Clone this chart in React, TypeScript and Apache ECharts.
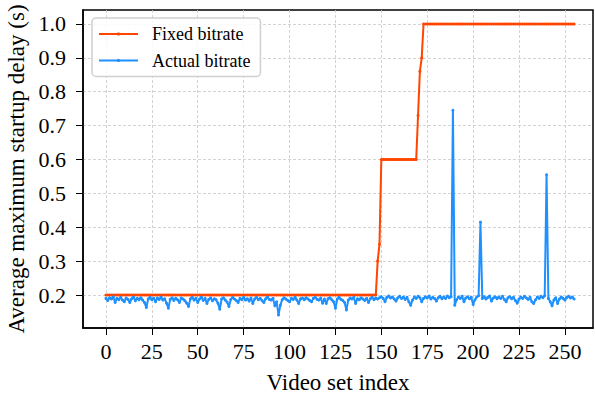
import React, { useEffect, useRef } from "react";
import * as echarts from "echarts";

const xTicks = [0, 25, 50, 75, 100, 125, 150, 175, 200, 225, 250];
const yTicks = [0.2, 0.3, 0.4, 0.5, 0.6, 0.7, 0.8, 0.9, 1.0];

const fixedBitrate = [
  0.2, 0.2, 0.2, 0.2, 0.2, 0.2, 0.2, 0.2, 0.2, 0.2,
  0.2, 0.2, 0.2, 0.2, 0.2, 0.2, 0.2, 0.2, 0.2, 0.2,
  0.2, 0.2, 0.2, 0.2, 0.2, 0.2, 0.2, 0.2, 0.2, 0.2,
  0.2, 0.2, 0.2, 0.2, 0.2, 0.2, 0.2, 0.2, 0.2, 0.2,
  0.2, 0.2, 0.2, 0.2, 0.2, 0.2, 0.2, 0.2, 0.2, 0.2,
  0.2, 0.2, 0.2, 0.2, 0.2, 0.2, 0.2, 0.2, 0.2, 0.2,
  0.2, 0.2, 0.2, 0.2, 0.2, 0.2, 0.2, 0.2, 0.2, 0.2,
  0.2, 0.2, 0.2, 0.2, 0.2, 0.2, 0.2, 0.2, 0.2, 0.2,
  0.2, 0.2, 0.2, 0.2, 0.2, 0.2, 0.2, 0.2, 0.2, 0.2,
  0.2, 0.2, 0.2, 0.2, 0.2, 0.2, 0.2, 0.2, 0.2, 0.2,
  0.2, 0.2, 0.2, 0.2, 0.2, 0.2, 0.2, 0.2, 0.2, 0.2,
  0.2, 0.2, 0.2, 0.2, 0.2, 0.2, 0.2, 0.2, 0.2, 0.2,
  0.2, 0.2, 0.2, 0.2, 0.2, 0.2, 0.2, 0.2, 0.2, 0.2,
  0.2, 0.2, 0.2, 0.2, 0.2, 0.2, 0.2, 0.2, 0.2, 0.2,
  0.2, 0.2, 0.2, 0.2, 0.2, 0.2, 0.2, 0.2, 0.3, 0.35,
  0.6, 0.6, 0.6, 0.6, 0.6, 0.6, 0.6, 0.6, 0.6, 0.6,
  0.6, 0.6, 0.6, 0.6, 0.6, 0.6, 0.6, 0.6, 0.6, 0.6,
  0.73, 0.86, 0.9, 1.0, 1.0, 1.0, 1.0, 1.0, 1.0, 1.0,
  1.0, 1.0, 1.0, 1.0, 1.0, 1.0, 1.0, 1.0, 1.0, 1.0,
  1.0, 1.0, 1.0, 1.0, 1.0, 1.0, 1.0, 1.0, 1.0, 1.0,
  1.0, 1.0, 1.0, 1.0, 1.0, 1.0, 1.0, 1.0, 1.0, 1.0,
  1.0, 1.0, 1.0, 1.0, 1.0, 1.0, 1.0, 1.0, 1.0, 1.0,
  1.0, 1.0, 1.0, 1.0, 1.0, 1.0, 1.0, 1.0, 1.0, 1.0,
  1.0, 1.0, 1.0, 1.0, 1.0, 1.0, 1.0, 1.0, 1.0, 1.0,
  1.0, 1.0, 1.0, 1.0, 1.0, 1.0, 1.0, 1.0, 1.0, 1.0,
  1.0, 1.0, 1.0, 1.0, 1.0, 1.0,
];

const actualBitrate = [
  0.190, 0.184, 0.192, 0.188, 0.195, 0.178, 0.190, 0.186, 0.193, 0.185,
  0.180, 0.191, 0.187, 0.178, 0.189, 0.194, 0.183, 0.190, 0.186, 0.192,
  0.185, 0.178, 0.163, 0.188, 0.193, 0.186, 0.190, 0.180, 0.191, 0.187,
  0.194, 0.185, 0.189, 0.176, 0.161, 0.187, 0.192, 0.184, 0.190, 0.186,
  0.178, 0.191, 0.188, 0.183, 0.176, 0.166, 0.189, 0.193, 0.185, 0.190,
  0.178, 0.188, 0.194, 0.184, 0.190, 0.175, 0.187, 0.192, 0.183, 0.189,
  0.186, 0.176, 0.158, 0.188, 0.192, 0.185, 0.179, 0.166, 0.187, 0.193,
  0.188, 0.184, 0.178, 0.190, 0.186, 0.193, 0.185, 0.189, 0.182, 0.191,
  0.175, 0.188, 0.193, 0.186, 0.190, 0.184, 0.178, 0.189, 0.194, 0.187,
  0.185, 0.190, 0.168, 0.180, 0.141, 0.170, 0.186, 0.192, 0.188, 0.184,
  0.180, 0.190, 0.187, 0.193, 0.185, 0.175, 0.189, 0.191, 0.186, 0.192,
  0.188, 0.184, 0.180, 0.190, 0.193, 0.187, 0.185, 0.191, 0.176, 0.188,
  0.175, 0.189, 0.192, 0.186, 0.180, 0.161, 0.188, 0.193, 0.187, 0.184,
  0.178, 0.156, 0.185, 0.191, 0.188, 0.193, 0.175, 0.189, 0.186, 0.192,
  0.188, 0.184, 0.190, 0.178, 0.189, 0.193, 0.186, 0.191, 0.188, 0.192,
  0.195, 0.190, 0.180, 0.193, 0.197, 0.191, 0.194, 0.188, 0.182, 0.192,
  0.196, 0.190, 0.194, 0.187, 0.193, 0.180, 0.170, 0.185, 0.194, 0.190,
  0.196, 0.192, 0.180, 0.190, 0.195, 0.191, 0.197, 0.188, 0.193, 0.190,
  0.182, 0.192, 0.196, 0.189, 0.194, 0.190, 0.197, 0.192, 0.195, 0.745,
  0.170, 0.186, 0.194, 0.190, 0.196, 0.180, 0.191, 0.195, 0.189, 0.193,
  0.172, 0.186, 0.194, 0.198, 0.415, 0.190, 0.195, 0.188, 0.193, 0.197,
  0.182, 0.191, 0.195, 0.189, 0.194, 0.190, 0.196, 0.187, 0.180, 0.192,
  0.195, 0.189, 0.193, 0.184, 0.176, 0.188, 0.194, 0.190, 0.196, 0.191,
  0.187, 0.193, 0.180, 0.175, 0.186, 0.194, 0.190, 0.196, 0.192, 0.198,
  0.555, 0.190, 0.180, 0.168, 0.185, 0.192, 0.175, 0.188, 0.194, 0.190,
  0.185, 0.193, 0.196, 0.191, 0.194, 0.188,
];

const FONT = "Liberation Serif, Times New Roman, serif";

export default function App() {
  const ref = useRef<HTMLDivElement>(null);
  useEffect(() => {
    if (!ref.current) return;
    const chart = echarts.init(ref.current, undefined, { renderer: "svg" });
    const fixedData = fixedBitrate.map((v, i) => [i, v]);
    const actualData = actualBitrate.map((v, i) => [i, v]);
    chart.setOption({
      animation: false,
      backgroundColor: "#fff",
      textStyle: { fontFamily: FONT, color: "#000" },
      grid: {
        left: 83,
        right: 2,
        top: 10,
        bottom: 69,
        containLabel: false,
        outerBoundsMode: "none",
        show: true,
        borderColor: "#000",
        borderWidth: 1.5,
        backgroundColor: "transparent",
      },
      legend: {
        left: 92,
        top: 18,
        orient: "vertical",
        itemWidth: 39,
        itemHeight: 4,
        itemGap: 6.5,
        padding: [6, 10, 6, 6],
        backgroundColor: "rgba(255,255,255,0.85)",
        borderColor: "#d0d0d0",
        borderWidth: 1.5,
        borderRadius: 4,
        textStyle: {
          fontFamily: FONT,
          fontSize: 18,
          color: "#000",
          lineHeight: 20,
          padding: [0, 0, 0, 9],
        },
        data: ["Fixed bitrate", "Actual bitrate"],
      },
      xAxis: {
        type: "value",
        min: -12.5,
        max: 265.3,
        name: "Video set index",
        nameLocation: "middle",
        nameGap: 43,
        nameTextStyle: { fontFamily: FONT, fontSize: 23, color: "#000" },
        axisLine: { show: true, onZero: false, lineStyle: { color: "#000", width: 1.5 } },
        axisTick: {
          show: true,
          length: 7,
          lineStyle: { color: "#000", width: 1 },
          customValues: xTicks,
        },
        axisLabel: {
          fontFamily: FONT,
          fontSize: 22,
          color: "#000",
          margin: 12,
          customValues: xTicks,
          formatter: (v: number) => String(v),
        },
        splitLine: {
          show: true,
          lineStyle: { color: "#c8c8c8", type: [3, 2], width: 0.8 },
        },
      },
      yAxis: {
        type: "value",
        min: 0.1026,
        max: 1.0413,
        name: "Average maximum startup delay (s)",
        nameLocation: "middle",
        nameGap: 53,
        nameTextStyle: { fontFamily: FONT, fontSize: 23, color: "#000" },
        axisLine: { show: true, onZero: false, lineStyle: { color: "#000", width: 1.5 } },
        axisTick: {
          show: true,
          length: 7,
          lineStyle: { color: "#000", width: 1 },
          customValues: yTicks,
        },
        axisLabel: {
          fontFamily: FONT,
          fontSize: 22,
          color: "#000",
          margin: 17,
          customValues: yTicks,
          formatter: (v: number) => v.toFixed(1),
        },
        splitLine: {
          show: true,
          lineStyle: { color: "#c8c8c8", type: [3, 2], width: 0.8 },
        },
      },
      series: [
        {
          name: "Fixed bitrate",
          type: "line",
          data: fixedData,
          symbol: "circle",
          symbolSize: 3,
          showSymbol: true,
          showAllSymbol: true,
          color: "#FF4500",
          lineStyle: { color: "#FF4500", width: 2 },
          itemStyle: { color: "#FF4500" },
        },
        {
          name: "Actual bitrate",
          type: "line",
          data: actualData,
          symbol: "circle",
          symbolSize: 3,
          showSymbol: true,
          showAllSymbol: true,
          color: "#1E90FF",
          lineStyle: { color: "#1E90FF", width: 2 },
          itemStyle: { color: "#1E90FF" },
        },
      ],
    });
    return () => chart.dispose();
  }, []);
  return <div ref={ref} style={{ width: 595, height: 397, position: "absolute", left: 0, top: 0 }} />;
}
